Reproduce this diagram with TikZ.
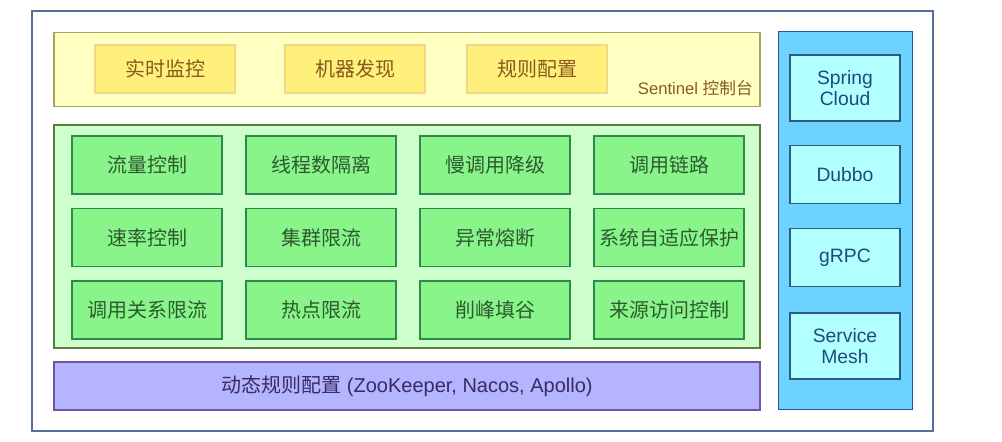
\documentclass[tikz,border=0pt]{standalone}
\usepackage{fontspec}
\setmainfont{Liberation Sans}
\newfontfamily\cjk{Noto Sans CJK SC}
\definecolor{frameC}{HTML}{56709A}
\definecolor{yPanelF}{HTML}{FFFFC2}
\definecolor{yPanelD}{HTML}{A8A45A}
\definecolor{yBoxF}{HTML}{FFF07C}
\definecolor{yBoxD}{HTML}{F2D68A}
\definecolor{yText}{HTML}{8A5A1E}
\definecolor{gPanelF}{HTML}{CCFFCC}
\definecolor{gPanelD}{HTML}{5E7A3E}
\definecolor{gBoxF}{HTML}{88F48A}
\definecolor{gBoxD}{HTML}{2F8A4A}
\definecolor{gText}{HTML}{2E5A30}
\definecolor{pF}{HTML}{B4B4FF}
\definecolor{pD}{HTML}{7552A2}
\definecolor{pText}{HTML}{3A2A66}
\definecolor{bPanelF}{HTML}{6ED2FF}
\definecolor{bPanelD}{HTML}{2A52A0}
\definecolor{bBoxF}{HTML}{B2FFFF}
\definecolor{bBoxD}{HTML}{2A5A86}
\definecolor{bText}{HTML}{1E4A7C}
\tikzset{
  px/.style={x=0.75pt,y=-0.75pt},
  ybox/.style={draw=yBoxD,fill=yBoxF,line width=0.9pt,minimum width=105pt,minimum height=36pt,text=yText,font=\cjk\fontsize{15pt}{17pt}\selectfont,inner sep=0pt},
  gbox/.style={draw=gBoxD,fill=gBoxF,line width=0.9pt,minimum width=112.5pt,minimum height=43.5pt,text=gText,font=\cjk\fontsize{15pt}{17pt}\selectfont,inner sep=0pt},
  bbox/.style={draw=bBoxD,fill=bBoxF,line width=0.9pt,minimum width=82.5pt,text=bText,font=\fontsize{14.5pt}{16pt}\selectfont,inner sep=0pt,align=center},
}
\begin{document}
\begin{tikzpicture}[px]
\useasboundingbox (0,0) rectangle (1002,442);
% outer frame
\draw[frameC,line width=1pt,fill=white] (32,11) rectangle (933,431);
% yellow panel
\node[draw=yPanelD,fill=yPanelF,line width=0.9pt,minimum width=529.5pt,minimum height=55.5pt,inner sep=0pt] (ypanel) at (407,69.5) {};
\node[ybox] (y1) at (165,69) {实时监控};
\node[ybox] (y2) at (355,69) {机器发现};
\node[ybox] (y3) at (537,69) {规则配置};
\node[anchor=east,text=yText,font=\fontsize{12.5pt}{14pt}\selectfont,inner sep=0pt] (ylabel) at (753,88) {Sentinel {\cjk 控制台}};
% green panel
\node[draw=gPanelD,fill=gPanelF,line width=0.9pt,minimum width=529.5pt,minimum height=167.25pt,inner sep=0pt] (gpanel) at (407,236.5) {};
\node[gbox] (g11) at (147,165) {流量控制};
\node[gbox] (g12) at (321,165) {线程数隔离};
\node[gbox] (g13) at (495,165) {慢调用降级};
\node[gbox] (g14) at (669,165) {调用链路};
\node[gbox] (g21) at (147,237.5) {速率控制};
\node[gbox] (g22) at (321,237.5) {集群限流};
\node[gbox] (g23) at (495,237.5) {异常熔断};
\node[gbox] (g24) at (669,237.5) {系统自适应保护};
\node[gbox] (g31) at (147,310) {调用关系限流};
\node[gbox] (g32) at (321,310) {热点限流};
\node[gbox] (g33) at (495,310) {削峰填谷};
\node[gbox] (g34) at (669,310) {来源访问控制};
% purple bar
\node[draw=pD,fill=pF,line width=0.9pt,minimum width=529.5pt,minimum height=36pt,inner sep=0pt,text=pText,font=\fontsize{15pt}{17pt}\selectfont] (dyn) at (407,386) {{\cjk 动态规则配置} (ZooKeeper, Nacos, Apollo)};
% blue panel
\node[draw=bPanelD,fill=bPanelF,line width=0.9pt,minimum width=101pt,minimum height=283pt,inner sep=0pt] (bpanel) at (845.5,220.5) {};
\node[bbox,minimum height=49.5pt] (b1) at (845,88) {Spring\\Cloud};
\node[bbox,minimum height=43pt] (b2) at (845,174.5) {Dubbo};
\node[bbox,minimum height=44pt] (b3) at (845,257.5) {gRPC};
\node[bbox,minimum height=49.5pt] (b4) at (845,346) {Service\\Mesh};
\end{tikzpicture}
\end{document}
